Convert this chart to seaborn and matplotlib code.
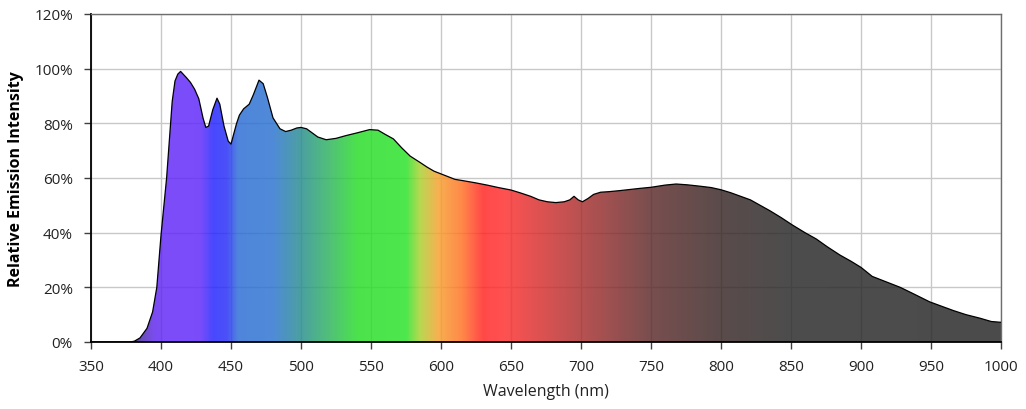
import numpy as np
import pandas as pd
import matplotlib
matplotlib.use("Agg")
import matplotlib.pyplot as plt
import seaborn as sns
from matplotlib.colors import LinearSegmentedColormap, to_rgb
from matplotlib.ticker import PercentFormatter, MultipleLocator

# ── Spectrum (nm, relative intensity) ──
wavelength = [
    350, 378, 381, 385, 390, 394, 397, 400, 404, 406, 408, 410, 412, 414,
    418, 421, 424, 427, 430, 432, 434, 437, 440, 442, 445, 448, 450, 454,
    456, 459, 463, 466, 470, 473, 476, 480, 485, 489, 493, 497, 500, 504,
    508, 512, 518, 525, 532, 540, 549, 555, 560, 566, 572, 578, 585, 590,
    595, 600, 605, 610, 616, 625, 633, 641, 650, 657, 664, 670, 676, 682,
    688, 692, 695, 698, 701, 705, 709, 714, 720, 728, 735, 742, 750, 760,
    768, 776, 785, 793, 800, 807, 814, 821, 828, 835, 843, 851, 860, 868,
    876, 885, 893, 900, 908, 918, 928, 938, 949, 958, 966, 975, 985, 993,
    1000,
]
intensity = [
    0.000, 0.000, 0.003, 0.015, 0.050, 0.110, 0.200, 0.390, 0.600, 0.740,
    0.880, 0.955, 0.980, 0.990, 0.968, 0.950, 0.925, 0.890, 0.820, 0.785,
    0.790, 0.850, 0.892, 0.870, 0.790, 0.735, 0.724, 0.800, 0.830, 0.853,
    0.870, 0.905, 0.958, 0.945, 0.895, 0.820, 0.780, 0.770, 0.775, 0.783,
    0.785, 0.780, 0.765, 0.750, 0.740, 0.745, 0.755, 0.765, 0.777, 0.775,
    0.760, 0.743, 0.710, 0.680, 0.657, 0.640, 0.625, 0.615, 0.605, 0.595,
    0.590, 0.582, 0.574, 0.565, 0.556, 0.545, 0.533, 0.520, 0.513, 0.510,
    0.513, 0.520, 0.533, 0.520, 0.513, 0.525, 0.540, 0.548, 0.550, 0.554,
    0.558, 0.562, 0.566, 0.574, 0.578, 0.575, 0.570, 0.565, 0.557, 0.546,
    0.533, 0.520, 0.500, 0.480, 0.455, 0.428, 0.400, 0.377, 0.348, 0.318,
    0.295, 0.273, 0.240, 0.220, 0.200, 0.175, 0.147, 0.130, 0.115, 0.100,
    0.087, 0.075, 0.072,
]

# colour of the fill at each wavelength (as seen over white)
stop_nm = [350, 378, 395, 405, 428, 437, 447, 455, 480, 500, 520, 540,
           575, 585, 598, 615, 630, 645, 700, 750, 800, 850, 1000]
stop_hex = ["#4a4a5e", "#5a4a8a", "#7a4cf0", "#7c4bfa", "#7a4bfa", "#4848ff",
            "#4a50f8", "#4f85dc", "#4f8ad8", "#4aa0a0", "#50c078", "#4ce24c",
            "#4ce84c", "#b8d850", "#f8b050", "#ff8848", "#ff4848", "#ff5050",
            "#b85050", "#784e4e", "#5a4a4a", "#4c4c4c", "#4a4a4a"]

FILL_ALPHA = 0.85
GRID = "#c8c8c8"

df = pd.DataFrame({"wavelength": wavelength, "intensity": intensity})

sns.set_theme(style="white")
plt.rcParams["font.family"] = ["Open Sans", "DejaVu Sans"]

fig = plt.figure(figsize=(10.26, 4.10), dpi=100)
ax = fig.add_axes([91 / 1026, 1 - 343 / 410, 910 / 1026, 328 / 410])

ax.set_xlim(350, 1000)
ax.set_ylim(0, 1.2)
ax.xaxis.set_major_locator(MultipleLocator(50))
ax.yaxis.set_major_locator(MultipleLocator(0.2))
ax.yaxis.set_major_formatter(PercentFormatter(1.0, decimals=0))
ax.grid(True, color=GRID, lw=1.0, zorder=0)
ax.set_axisbelow(True)

# gradient under the curve; undo the alpha so the blend matches
span = stop_nm[-1] - stop_nm[0]
raw = [tuple(np.clip((np.array(to_rgb(h)) - (1 - FILL_ALPHA)) / FILL_ALPHA, 0, 1))
       for h in stop_hex]
cmap = LinearSegmentedColormap.from_list(
    "spectrum", [((n - stop_nm[0]) / span, c) for n, c in zip(stop_nm, raw)], N=1024)
poly = ax.fill_between(df["wavelength"], df["intensity"], 0, color="none", lw=0)
grad = np.linspace(0, 1, 1024).reshape(1, -1)
img = ax.imshow(grad, cmap=cmap, aspect="auto", extent=[350, 1000, 0, 1.2],
                origin="lower", alpha=FILL_ALPHA, zorder=2, interpolation="bilinear")
img.set_clip_path(poly.get_paths()[0], transform=ax.transData)

sns.lineplot(data=df, x="wavelength", y="intensity", ax=ax, color="black",
             lw=0.9, zorder=3)

for side in ("left", "bottom"):
    ax.spines[side].set_color("black")
    ax.spines[side].set_linewidth(1.3)
for side in ("top", "right"):
    ax.spines[side].set_color("#6e6e6e")
    ax.spines[side].set_linewidth(1.0)

ax.tick_params(axis="both", which="major", direction="out", length=5, width=1,
               color="#404040", labelsize=11, labelcolor="#222222",
               bottom=True, left=True)
ax.tick_params(axis="x", pad=7)
ax.tick_params(axis="y", pad=8)
ax.set_xlabel("Wavelength (nm)", fontsize=11.5, color="#222222", labelpad=7)
ax.set_ylabel("Relative Emission Intensity", fontsize=11.5, fontweight="bold",
              color="black", labelpad=7)

fig.savefig("out.png", dpi=100, facecolor="white")
